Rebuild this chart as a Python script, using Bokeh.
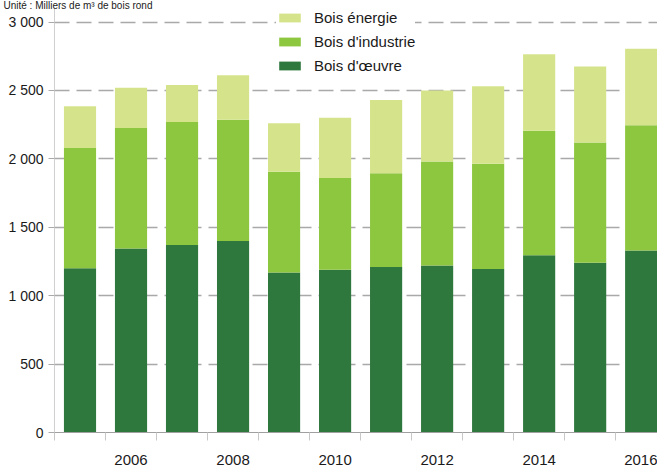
from bokeh.plotting import figure
from bokeh.models import (ColumnDataSource, Legend, LegendItem, FixedTicker, Range1d,
                          Title)
from bokeh.embed import file_html
from bokeh.resources import INLINE

# ---- data (thousands of m3 of round wood) ----
years = [2005, 2006, 2007, 2008, 2009, 2010, 2011, 2012, 2013, 2014, 2015, 2016]
bois_oeuvre = [1200, 1345, 1370, 1400, 1170, 1190, 1210, 1220, 1195, 1295, 1240, 1330]
bois_industrie_top = [2080, 2225, 2270, 2285, 1905, 1860, 1895, 1980, 1965, 2205, 2120, 2245]
total = [2385, 2520, 2540, 2610, 2260, 2300, 2430, 2500, 2530, 2765, 2675, 2805]
bois_industrie = [t - o for t, o in zip(bois_industrie_top, bois_oeuvre)]
bois_energie = [t - i for t, i in zip(total, bois_industrie_top)]

series = ["Bois d'œuvre", "Bois d'industrie", "Bois énergie"]
colors = ["#2E773D", "#8DC63F", "#D5E48B"]
y_ticks = [0, 500, 1000, 1500, 2000, 2500, 3000]
x_label_years = [2006, 2008, 2010, 2012, 2014, 2016]
unit_text = "Unité : Milliers de m³ de bois rond"

FONT = "Liberation Sans"

source = ColumnDataSource(data={
    "year": years,
    series[0]: bois_oeuvre,
    series[1]: bois_industrie,
    series[2]: bois_energie,
})

p = figure(width=657, height=467, output_backend="svg", toolbar_location=None,
           x_range=Range1d(years[0] - 0.5, years[-1] + 0.32),
           y_range=Range1d(0, 3106),
           min_border_left=54, min_border_right=0, min_border_top=0, min_border_bottom=35)
p.outline_line_color = None
p.background_fill_color = "white"

p.add_layout(Title(text=unit_text, align="left", offset=-51, standoff=-6,
                   text_font=FONT, text_font_size="10px", text_font_style="normal",
                   text_color="#1a1a1a"), "above")

renderers = p.vbar_stack(series, x="year", width=0.63, color=colors, line_color=None,
                         source=source)

# grid
p.xgrid.grid_line_color = None
p.ygrid.ticker = FixedTicker(ticks=y_ticks)
p.ygrid.grid_line_color = "#A9A9A9"
p.ygrid.grid_line_width = 1.6
p.ygrid.grid_line_dash = "15 7"

# y axis
p.yaxis.ticker = FixedTicker(ticks=y_ticks)
p.yaxis.major_label_overrides = {t: f"{t:,}".replace(",", " ") for t in y_ticks}
p.yaxis.major_label_text_font = FONT
p.yaxis.major_label_text_font_size = "14px"
p.yaxis.major_label_text_color = "#1a1a1a"
p.yaxis.axis_line_color = "#D0D0D0"
p.yaxis.major_tick_line_color = "#A9A9A9"
p.yaxis.major_tick_out = 6
p.yaxis.major_tick_in = 0
p.yaxis.minor_tick_line_color = None
p.yaxis.major_label_standoff = 5

# x axis
minor = [y - 0.5 for y in years] + [years[-1] + 0.5]
p.xaxis.ticker = FixedTicker(ticks=x_label_years, minor_ticks=minor)
p.xaxis.major_label_text_font = FONT
p.xaxis.major_label_text_font_size = "15px"
p.xaxis.major_label_text_color = "#1a1a1a"
p.xaxis.axis_line_color = "#A0A0A0"
p.xaxis.axis_line_width = 1.2
p.xaxis.major_tick_line_color = None
p.xaxis.major_tick_out = 0
p.xaxis.major_tick_in = 0
p.xaxis.minor_tick_line_color = "#C8C8C8"
p.xaxis.minor_tick_out = 8
p.xaxis.minor_tick_in = 0
p.xaxis.major_label_standoff = 14

# legend (top entry = Bois énergie)
items = [LegendItem(label=series[i], renderers=[renderers[i]]) for i in (2, 1, 0)]
legend = Legend(items=items, location=(222, 358), orientation="vertical",
                label_text_font=FONT, label_text_font_size="15px",
                label_text_color="#1a1a1a",
                glyph_width=27, glyph_height=11, label_height=17,
                label_standoff=11, spacing=7, padding=0, margin=0,
                border_line_color=None, background_fill_color="white",
                background_fill_alpha=1.0)
p.add_layout(legend, "center")

open("out.html", "w").write(file_html(p, INLINE))
